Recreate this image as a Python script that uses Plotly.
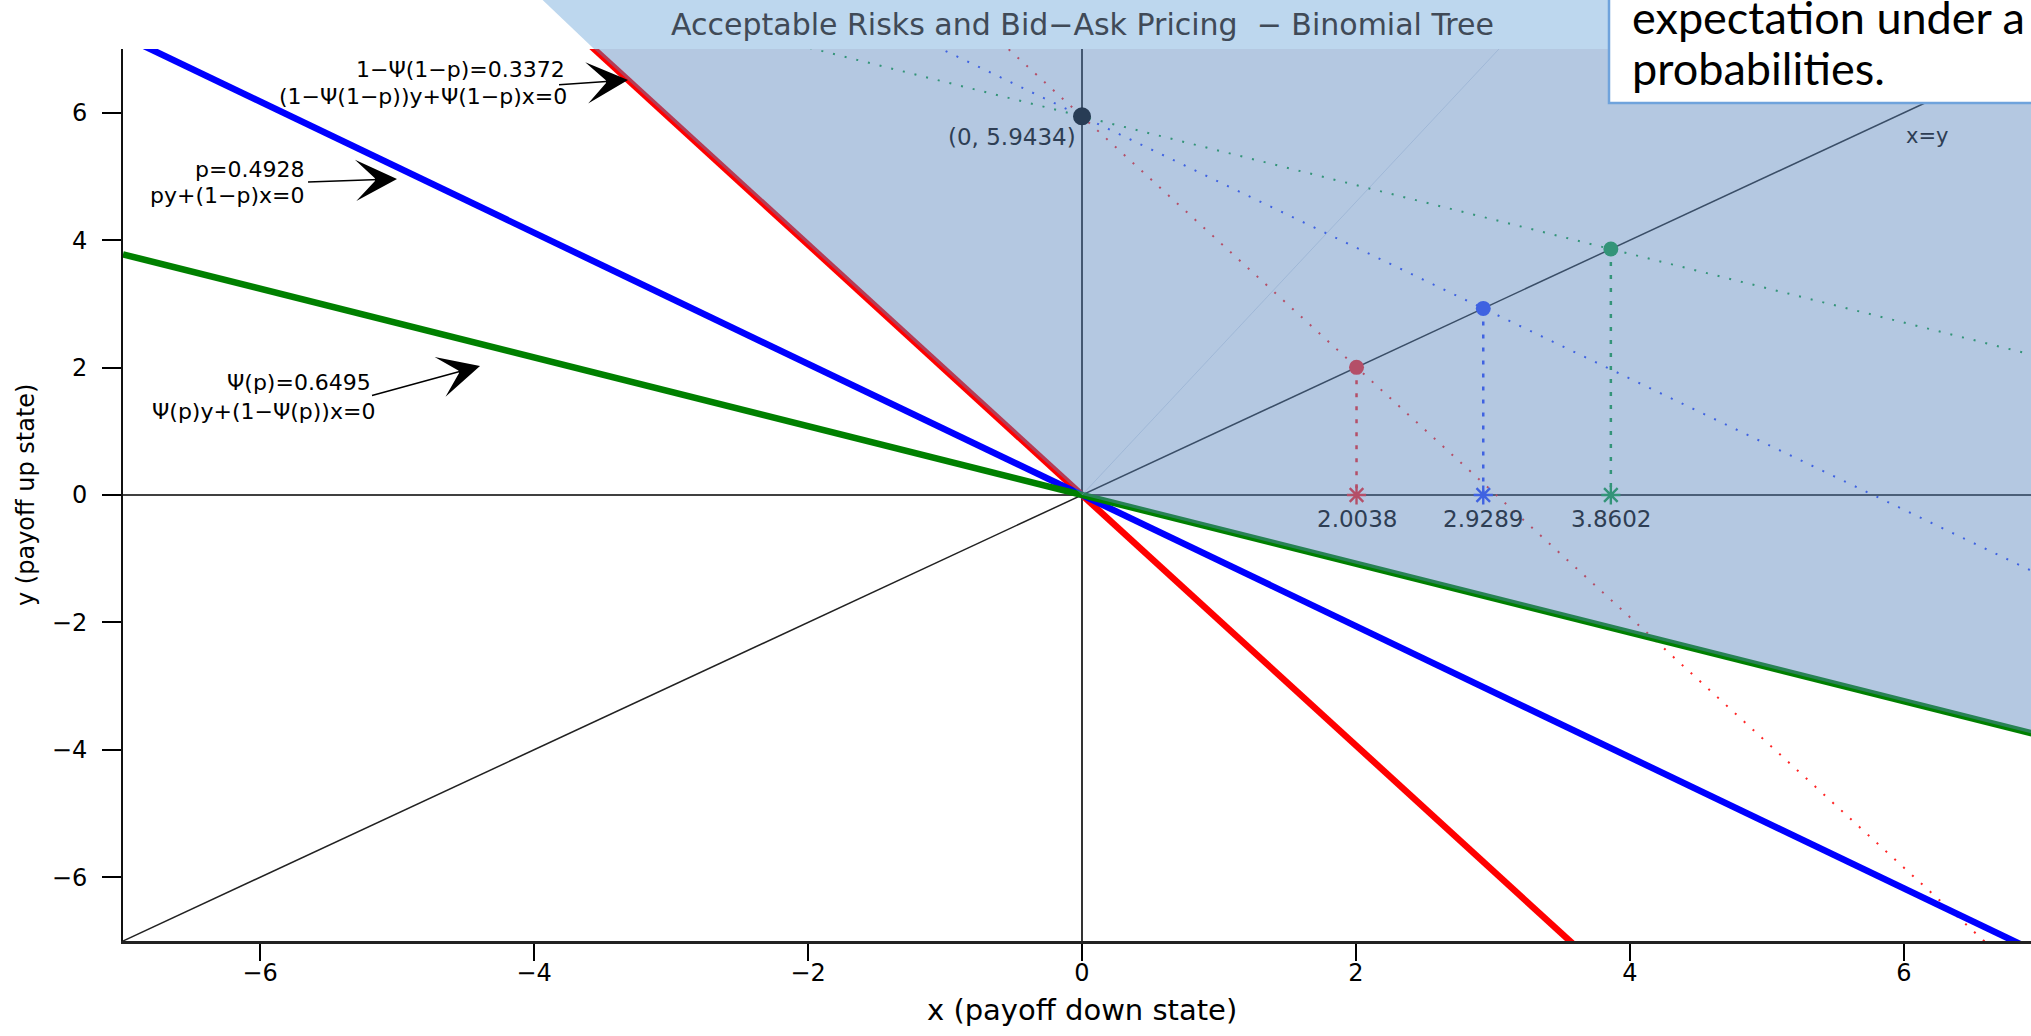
import numpy as np
import plotly.graph_objects as go

# ---------------- data ----------------
# each line: w*y + (1-w)*x = 0, w = weight on the up state
y_weights = [0.3372, 0.4928, 0.6495]
line_colors = ["#FF0000", "#0000FF", "#008000"]
dot_colors = ["#FF2424", "#2A46FF", "#14A040"]
ask_x = [0.0]
ask_y = [5.9434]
ask_label = ["(0, 5.9434)"]
prices = [2.0038, 2.9289, 3.8602]
price_labels = ["2.0038", "2.9289", "3.8602"]
x_span = [-7.0, 7.0]
tick_vals = [-6, -4, -2, 0, 2, 4, 6]
tick_text = ["−6", "−4", "−2", "0", "2", "4", "6"]
eq_top = ["1−Ψ(1−p)=0.3372", "p=0.4928", "Ψ(p)=0.6495"]
eq_bottom = ["(1−Ψ(1−p))y+Ψ(1−p)x=0", "py+(1−p)x=0", "Ψ(p)y+(1−Ψ(p))x=0"]
overlay_seam_slope = [2.3]

# ---------------- layout geometry ----------------
W, H = 2031, 1036
SCR_L, SCR_T, SCR_B = 123, 49, 941     # plot area edges on screen
SCR_R = 2031
ML = SCR_L
MT = SCR_T
MR = W - SCR_R
MB = H - SCR_B
PX_PER_UNIT = 137.0
X_LO = -7.0
X_HI = X_LO + (SCR_R - SCR_L) / PX_PER_UNIT
Y_LO, Y_HI = -7.0, 7.0
plot_w = W - ML - MR
plot_h = H - MT - MB


def paper_x(px):            # screen px -> paper
    return (px - SCR_L) / plot_w


def paper_y(py):            # screen px -> paper
    return (SCR_B - py) / plot_h


def data_to_paper_x(x):
    return (x - X_LO) / (X_HI - X_LO)


def data_to_paper_y(y):
    return (y - Y_LO) / (Y_HI - Y_LO)


xs = np.array(x_span)
slopes = [(1 - w) / w for w in y_weights]

fig = go.Figure()

# x = y reference line
fig.add_trace(go.Scatter(x=xs, y=xs, mode="lines",
                         line=dict(color="#222222", width=1.5)))
# axes through origin
fig.add_trace(go.Scatter(x=xs, y=[0, 0], mode="lines",
                         line=dict(color="#000000", width=1.5)))
fig.add_trace(go.Scatter(x=[0, 0], y=xs, mode="lines",
                         line=dict(color="#000000", width=1.6)))

# dotted lines through the ask point, parallel to each pricing line
for s, c in zip(slopes, dot_colors):
    fig.add_trace(go.Scatter(x=xs, y=ask_y[0] - s * xs, mode="lines",
                             line=dict(color=c, width=2, dash="2px,10px")))

# vertical dotted drops from x=y to axis
for p, c in zip(prices, dot_colors):
    fig.add_trace(go.Scatter(x=[p, p], y=[p, 0], mode="lines",
                             line=dict(color=c, width=2.5, dash="4px,9px")))

# thick pricing lines
for s, c in zip(slopes, line_colors):
    fig.add_trace(go.Scatter(x=xs, y=-s * xs, mode="lines",
                             line=dict(color=c, width=6.5)))

# points on x=y
fig.add_trace(go.Scatter(x=prices, y=prices, mode="markers",
                         marker=dict(color=dot_colors, size=15, line=dict(width=0))))
# asterisks on the axis
fig.add_trace(go.Scatter(x=prices, y=[0] * len(prices), mode="markers",
                         marker=dict(symbol="asterisk-open", size=16, color=dot_colors,
                                     line=dict(color=dot_colors, width=2.4))))
# ask point
fig.add_trace(go.Scatter(x=ask_x, y=ask_y, mode="markers",
                         marker=dict(color="#000000", size=18, line=dict(width=0))))

# ---------------- shapes ----------------
r_slope = slopes[0]
g_slope = slopes[2]
ytop_img = Y_HI + SCR_T / (plot_h / (Y_HI - Y_LO))
shapes = []
# light band above the plot (title region)
bx0 = data_to_paper_x(-ytop_img / r_slope)
bx1 = data_to_paper_x(-Y_HI / r_slope)
ytop_paper = paper_y(-2)
shapes.append(dict(type="path", xref="paper", yref="paper", layer="above",
                   path=f"M {bx0},{ytop_paper} L 1.02,{ytop_paper} L 1.02,1 L {bx1},1 Z",
                   fillcolor="#BDD7EE", line=dict(width=0)))
# acceptance cone overlay (semi transparent, above traces)
yt = Y_HI + 1
xr = X_HI + 1
shapes.append(dict(type="path", xref="x", yref="y", layer="above",
                   path=f"M {-yt / r_slope},{yt} L {xr},{yt} L {xr},{-g_slope * xr} L 0,0 Z",
                   fillcolor="rgba(88,133,188,0.45)", line=dict(width=0)))
# faint seam of the overlay
shapes.append(dict(type="line", xref="x", yref="y", layer="above",
                   x0=0, y0=0, x1=Y_HI / overlay_seam_slope[0], y1=Y_HI,
                   line=dict(color="rgba(130,160,200,0.4)", width=1)))
# text box in the upper right
shapes.append(dict(type="rect", xref="paper", yref="paper", layer="above",
                   x0=paper_x(1609), x1=paper_x(W + 30), y0=paper_y(103), y1=paper_y(-20),
                   fillcolor="#FFFFFF", line=dict(color="#6FA3DC", width=2.5)))

# ---------------- annotations ----------------
FONT = "DejaVu Sans, Liberation Sans, Arial, sans-serif"
tint = "#2E3E54"
ann = []
ann.append(dict(xref="paper", yref="paper", x=data_to_paper_x(0), y=paper_y(24),
                text="Acceptable Risks and Bid−Ask Pricing\u00a0 − Binomial Tree",
                showarrow=False, xanchor="center", yanchor="middle",
                font=dict(family=FONT, size=30, color="#404a57")))
ann.append(dict(xref="paper", yref="paper", x=data_to_paper_x(0), y=paper_y(1010),
                text="x (payoff down state)", showarrow=False,
                xanchor="center", yanchor="middle",
                font=dict(family=FONT, size=29, color="#000000")))
ann.append(dict(xref="paper", yref="paper", x=paper_x(26), y=data_to_paper_y(0),
                text="y (payoff up state)", showarrow=False, textangle=-90,
                xanchor="center", yanchor="middle",
                font=dict(family=FONT, size=24, color="#000000")))

eq_top_pos = [(-3.759, 6.686), (-5.664, 5.101), (-5.175, 1.758)]
eq_bot_pos = [(-3.745, 6.247), (-5.664, 4.693), (-5.146, 1.303)]
arrow_tail = [(-3.832, 6.435), (-5.664, 4.913), (-5.197, 1.554)]
arrow_head = [(-3.314, 6.514), (-5.0, 4.96), (-4.394, 2.025)]
for t, (x, y) in zip(eq_top, eq_top_pos):
    ann.append(dict(x=x, y=y, text=t, showarrow=False, xanchor="right", yanchor="middle",
                    font=dict(family=FONT, size=22, color="#000000")))
for t, (x, y) in zip(eq_bottom, eq_bot_pos):
    ann.append(dict(x=x, y=y, text=t, showarrow=False, xanchor="right", yanchor="middle",
                    font=dict(family=FONT, size=22, color="#000000")))
for (tx, ty), (hx, hy) in zip(arrow_tail, arrow_head):
    ann.append(dict(x=hx, y=hy, ax=tx, ay=ty, axref="x", ayref="y", text=" ",
                    showarrow=True, arrowhead=3, arrowsize=4.6, arrowwidth=1.5,
                    arrowcolor="#000000", standoff=0, startstandoff=0,
                    font=dict(size=2)))

ann.append(dict(x=ask_x[0], y=ask_y[0], text=ask_label[0], showarrow=False,
                xanchor="right", yanchor="middle", xshift=-4, yshift=-21,
                font=dict(family=FONT, size=23, color=tint)))
for p, t in zip(prices, price_labels):
    ann.append(dict(x=p, y=0, text=t, showarrow=False, xanchor="center",
                    yanchor="middle", yshift=-24,
                    font=dict(family=FONT, size=23, color=tint)))
ann.append(dict(x=6.17, y=5.63, text="x=y", showarrow=False,
                font=dict(family=FONT, size=21, color=tint)))

BOXFONT = "Lato, Noto Sans, sans-serif"
ann.append(dict(xref="paper", yref="paper", x=paper_x(1630), y=paper_y(17),
                text="expectation under a", showarrow=False, xanchor="left",
                yanchor="middle", font=dict(family=BOXFONT, size=45, color="#000000")))
ann.append(dict(xref="paper", yref="paper", x=paper_x(1630), y=paper_y(68),
                text="probabilities.", showarrow=False, xanchor="left",
                yanchor="middle", font=dict(family=BOXFONT, size=45, color="#000000")))

axis_common = dict(showgrid=False, zeroline=False, showline=True,
                   ticks="outside", tickvals=tick_vals, ticktext=tick_text,
                   tickfont=dict(family=FONT, size=24, color="#000000"),
                   tickcolor="#000000", mirror=False)

fig.update_layout(
    width=W, height=H, autosize=False,
    margin=dict(l=ML, r=MR, t=MT, b=MB, pad=0),
    paper_bgcolor="#FFFFFF", plot_bgcolor="#FFFFFF",
    showlegend=False,
    xaxis=dict(range=[X_LO, X_HI], linecolor="#222222", linewidth=2.5,
               ticklen=17, tickwidth=2, ticklabelstandoff=-9, **axis_common),
    yaxis=dict(range=[Y_LO, Y_HI], linecolor="#111111", linewidth=2,
               ticklen=19, tickwidth=1.6, ticklabelstandoff=10, **axis_common),
    shapes=shapes,
    annotations=ann,
)

fig.write_html("out.html",
               config={"displayModeBar": False},
               post_script="document.body.style.margin='0';document.body.style.overflow='hidden';")
